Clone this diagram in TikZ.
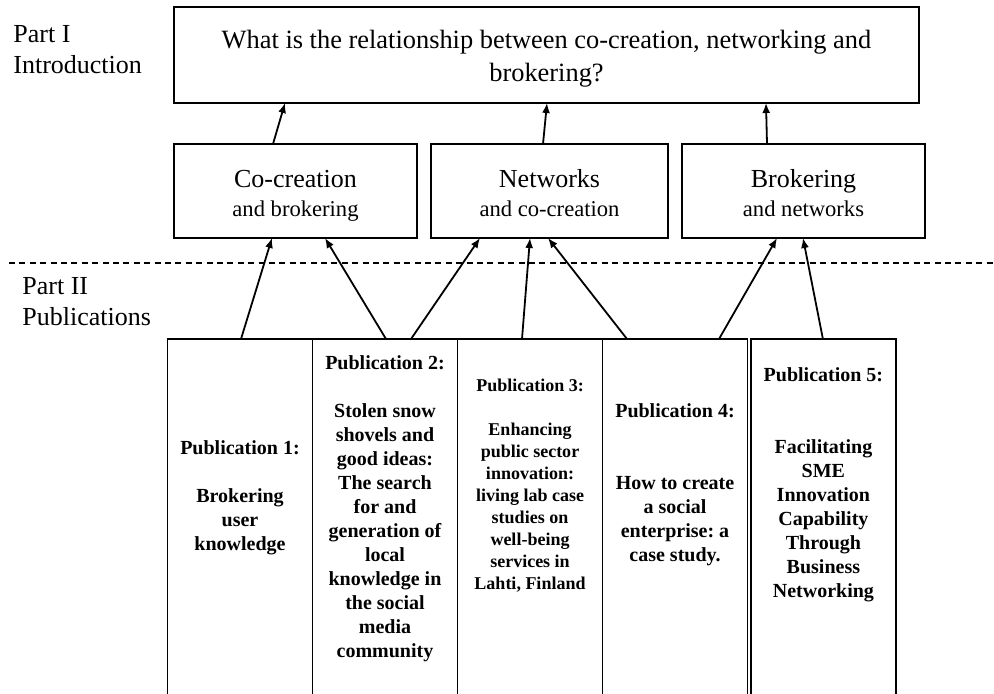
\documentclass[tikz,border=0pt]{standalone}
\usepackage{fontspec}
\setmainfont{Liberation Serif}
\usetikzlibrary{positioning, arrows.meta, calc}

\newcommand{\subline}{\fontsize{11.3}{14.5}\selectfont}
\frenchspacing

\begin{document}
\begin{tikzpicture}[
    x=0.5pt, y=-0.5pt,
    box/.style={draw, line width=0.85pt, inner sep=0pt, outer sep=0pt, align=center},
    theme/.style={box, minimum width=121.5pt, minimum height=47pt, font=\fontsize{13}{14.5}\selectfont},
    pub/.style={box, minimum width=72.5pt, minimum height=181pt},
    pubtxt/.style={anchor=north, inner sep=0pt, align=center, font=\fontsize{10}{12}\selectfont\bfseries},
    part/.style={anchor=north west, inner sep=0pt, align=left, font=\fontsize{13}{15.5}\selectfont},
    arr/.style={-{Latex[length=5pt, width=4pt]}, line width=0.9pt},
    divider/.style={line width=0.75pt, dash pattern=on 3pt off 2.2pt}
  ]
  \useasboundingbox (0,0) rectangle (994,694);

  % part labels
  \node[part] (part1) at (13,25) {Part I\\Introduction};
  \node[part] (part2) at (22,277) {Part II\\Publications};

  % research question
  \node[box, minimum width=372.5pt, minimum height=48pt, font=\fontsize{13.2}{16.5}\selectfont] (question) at (546.5,55)
    {\rule{0pt}{13.5pt}What is the relationship between co-creation, networking and\\brokering?\rule[-3pt]{0pt}{3pt}};

  % themes
  \node[theme] (cocreation) at (295.5,191) {\rule{0pt}{14.5pt}Co-creation\\{\subline and brokering\rule[-3pt]{0pt}{3pt}}};
  \node[theme, minimum width=118.5pt, right=7pt of cocreation] (networks) {\rule{0pt}{14.5pt}Networks\\{\subline and co-creation\rule[-3pt]{0pt}{3pt}}};
  \node[theme, right=7pt of networks] (brokering) {\rule{0pt}{14.5pt}Brokering\\{\subline and networks\rule[-3pt]{0pt}{3pt}}};

  \draw[arr] ($(cocreation.north west)+(99,0)$) -- ($(question.south west)+(111,0)$);
  \draw[arr] ($(networks.north west)+(112,0)$) -- ($(question.south west)+(373,0)$);
  \draw[arr] ($(brokering.north west)+(85,0)$) -- ($(question.south west)+(592,0)$);

  % divider between parts
  \coordinate (divL) at (9,263);
  \coordinate (divR) at (994,263);
  \draw[divider] (divL) -- (divR);

  % publications
  \node[pub, anchor=north] (pub1) at (240,339) {};
  \node[pub, right=0pt of pub1] (pub2) {};
  \node[pub, right=0pt of pub2] (pub3) {};
  \node[pub, right=0pt of pub3] (pub4) {};
  \node[pub, right=1.7pt of pub4] (pub5) {};

  \node[pubtxt] (pub1text) at ($(pub1.north)+(0,101)$)
    {Publication 1:\\[12pt]Brokering\\user\\knowledge};
  \node[pubtxt] (pub2text) at ($(pub2.north)+(0,16)$)
    {Publication 2:\\[12pt]Stolen snow\\shovels and\\good ideas:\\The search\\for and\\generation of\\local\\knowledge in\\the social\\media\\community};
  \node[pubtxt, font=\fontsize{9}{11}\selectfont\bfseries] (pub3text) at ($(pub3.north)+(0,40)$)
    {Publication 3:\\[11pt]Enhancing\\public sector\\innovation:\\living lab case\\studies on\\well-being\\services in\\Lahti, Finland};
  \node[pubtxt] (pub4text) at ($(pub4.north)+(0,64)$)
    {Publication 4:\\[24pt]How to create\\a social\\enterprise: a\\case study.};
  \node[pubtxt] (pub5text) at ($(pub5.north)+(0,28)$)
    {Publication 5:\\[24pt]Facilitating\\SME\\Innovation\\Capability\\Through\\Business\\Networking};

  \draw[arr] ($(pub1.north west)+(73.5,0)$) -- ($(cocreation.south west)+(98,0)$);
  \draw[arr] ($(pub2.north west)+(73.5,0)$) -- ($(cocreation.south west)+(151,0)$);
  \draw[arr] ($(pub2.north west)+(98.5,0)$) -- ($(networks.south west)+(49,0)$);
  \draw[arr] ($(pub3.north west)+(64.5,0)$) -- ($(networks.south west)+(99,0)$);
  \draw[arr] ($(pub4.north west)+(24.5,0)$) -- ($(networks.south west)+(117,0)$);
  \draw[arr] ($(pub4.north west)+(116.5,0)$) -- ($(brokering.south west)+(95,0)$);
  \draw[arr] ($(pub5.north west)+(72,0)$) -- ($(brokering.south west)+(121,0)$);
\end{tikzpicture}
\end{document}
